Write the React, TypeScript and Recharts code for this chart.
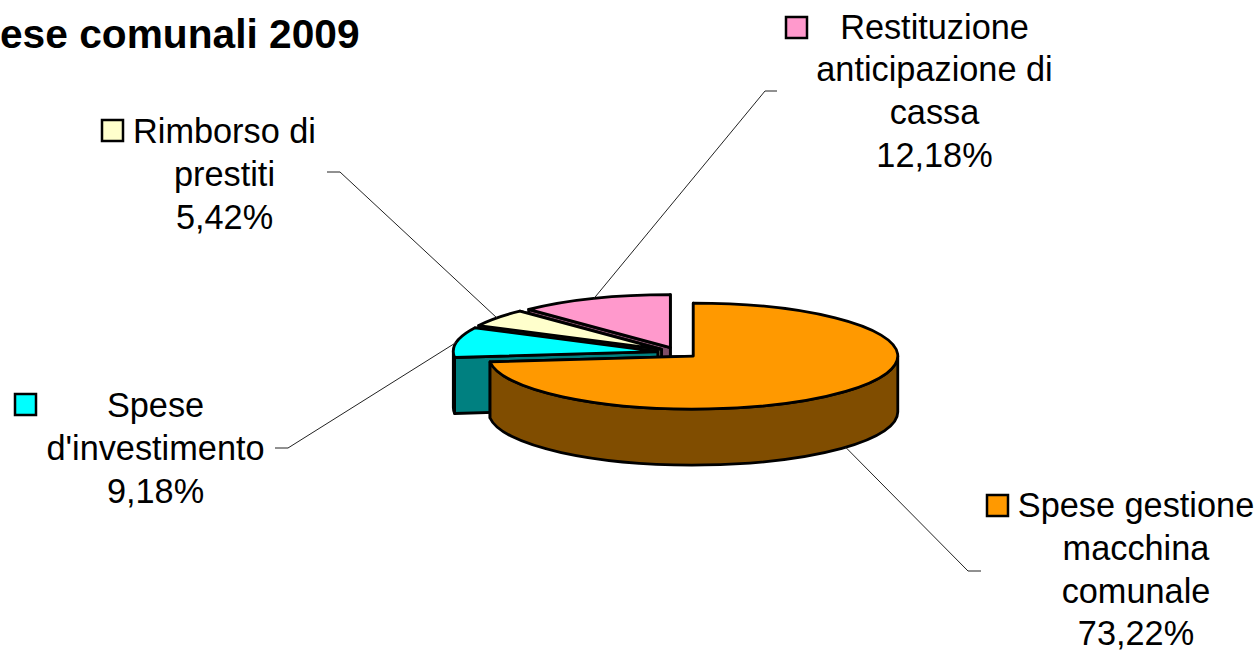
import { Pie, PieChart } from 'recharts'

// Back-to-front paint order: each slice's walls must be hidden by the next one
const categories = [
  ['Restituzione', 'anticipazione di', 'cassa'],
  ['Rimborso di', 'prestiti'],
  ['Spese', "d'investimento"],
  ['Spese gestione', 'macchina', 'comunale'],
]
const values = [12.18, 5.42, 9.18, 73.22]
const title = 'Spese comunali 2009'

const topColors = ['#ff99cc', '#ffffcc', '#00ffff', '#ff9900']
const sideColors = ['#804d66', '#808066', '#008080', '#804d00']

const tableData = categories.map((lines, i) => ({ name: lines.join(' '), value: values[i] }))

const CHART_W = 1259
const CHART_H = 650
const FONT = '"Liberation Sans", Arial, sans-serif'

// 3D look of the pie
const TILT = 53 / 204.5
const DEPTH = 56
const EXPLODE = 20.5

// label blocks: centre x, first baseline, legend key x/y, leader elbow and end
const labelLayout = [
  { x: 934.5, y: 38.5, keyX: 786, keyY: 17, elbow: [765, 91], end: [777, 91], onWall: false },
  { x: 224.5, y: 143, keyX: 102, keyY: 120, elbow: [340, 172], end: [327, 172], onWall: false },
  { x: 155.5, y: 417, keyX: 15, keyY: 394, elbow: [288, 448], end: [275, 448], onWall: false },
  { x: 1136, y: 517, keyX: 987, keyY: 495, elbow: [968, 571], end: [981, 571], onWall: true },
]

const rad = (deg: number) => (deg * Math.PI) / 180

function sliceCentre(cx: number, cy: number, startAngle: number, endAngle: number) {
  const mid = rad((startAngle + endAngle) / 2)
  return {
    x: cx + EXPLODE * Math.cos(mid),
    y: cy - EXPLODE * TILT * Math.sin(mid),
  }
}

function Slice3D(props: any) {
  const { cx, cy, outerRadius, startAngle, endAngle, index } = props
  const r = outerRadius
  const ry = r * TILT
  const c = sliceCentre(cx, cy, startAngle, endAngle)
  const pt = (deg: number, drop = 0) => ({
    x: c.x + r * Math.cos(rad(deg)),
    y: c.y - ry * Math.sin(rad(deg)) + drop,
  })

  const cutFace = (deg: number) => {
    const a = pt(deg)
    const b = pt(deg, DEPTH)
    return `M${c.x},${c.y} L${a.x},${a.y} L${b.x},${b.y} L${c.x},${c.y + DEPTH} Z`
  }

  // outer wall is only seen on the front half of the ellipse
  const wallFrom = Math.max(startAngle, 180)
  const wallTo = Math.min(endAngle, 360)
  let wall = ''
  if (wallTo > wallFrom) {
    const a = pt(wallFrom)
    const b = pt(wallTo)
    const bDown = pt(wallTo, DEPTH)
    const aDown = pt(wallFrom, DEPTH)
    wall =
      `M${a.x},${a.y} A${r},${ry} 0 0 0 ${b.x},${b.y} L${bDown.x},${bDown.y} ` +
      `A${r},${ry} 0 0 1 ${aDown.x},${aDown.y} Z`
  }

  const s = pt(startAngle)
  const e = pt(endAngle)
  const large = endAngle - startAngle > 180 ? 1 : 0
  const top = `M${c.x},${c.y} L${s.x},${s.y} A${r},${ry} 0 ${large} 0 ${e.x},${e.y} Z`

  const edge = { stroke: '#000', strokeWidth: 2.8, strokeLinejoin: 'round' as const }
  return (
    <g>
      <path d={cutFace(startAngle)} fill={sideColors[index]} {...edge} />
      <path d={cutFace(endAngle)} fill={sideColors[index]} {...edge} />
      {wall ? <path d={wall} fill={sideColors[index]} {...edge} /> : null}
      <path d={top} fill={topColors[index]} {...edge} />
    </g>
  )
}

function SliceLabel(props: any) {
  const { cx, cy, outerRadius, startAngle, endAngle, index } = props
  const layout = labelLayout[index]
  const c = sliceCentre(cx, cy, startAngle, endAngle)
  const mid = rad((startAngle + endAngle) / 2)
  const hitX = c.x + outerRadius * Math.cos(mid)
  const hitY = c.y - outerRadius * TILT * Math.sin(mid) + (layout.onWall ? DEPTH : 0)
  const lines = [...categories[index], `${values[index].toFixed(2).replace('.', ',')}%`]
  return (
    <g>
      <polyline
        points={`${hitX},${hitY} ${layout.elbow.join(',')} ${layout.end.join(',')}`}
        fill="none"
        stroke="#222"
        strokeWidth={1}
      />
      <rect
        x={layout.keyX}
        y={layout.keyY}
        width={21}
        height={21}
        fill={topColors[index]}
        stroke="#000"
        strokeWidth={2.5}
      />
      <text
        x={layout.x}
        y={layout.y}
        textAnchor="middle"
        fontFamily={FONT}
        fontSize={34.3}
        fill="#000"
      >
        {lines.map((line, i) => (
          <tspan key={line} x={layout.x} y={layout.y + i * 42.8}>
            {line}
          </tspan>
        ))}
      </text>
    </g>
  )
}

export default function App() {
  return (
    <div style={{ position: 'absolute', left: 0, top: 0, width: CHART_W, height: CHART_H, background: '#fff' }}>
      <PieChart width={CHART_W} height={CHART_H} margin={{ top: 0, right: 0, bottom: 0, left: 0 }}>
        <text x={-52} y={48} fontFamily={FONT} fontSize={40.7} fontWeight="bold" fill="#000">
          {title}
        </text>
        <Pie
          data={tableData}
          dataKey="value"
          nameKey="name"
          cx={678}
          cy={352.5}
          innerRadius={0}
          outerRadius={204.5}
          startAngle={90}
          endAngle={450}
          shape={Slice3D}
          inactiveShape={Slice3D}
          label={SliceLabel}
          labelLine={false}
          isAnimationActive={false}
        />
      </PieChart>
    </div>
  )
}
